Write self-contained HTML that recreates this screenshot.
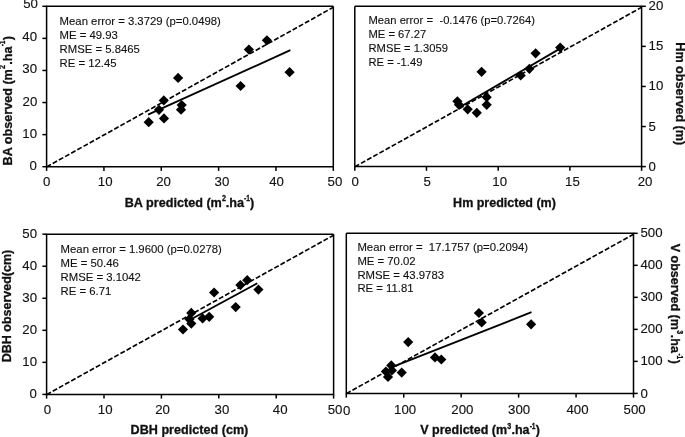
<!DOCTYPE html>
<html><head><meta charset="utf-8"><title>chart</title>
<style>
html,body{margin:0;padding:0;background:#fff;}
svg{display:block;will-change:transform;}
text{font-family:"Liberation Sans",sans-serif;fill:#111;}
</style></head>
<body>
<svg width="685" height="437" viewBox="0 0 685 437">
<rect width="685" height="437" fill="#fff"/>
<g fill="#000">
<line x1="46.6" y1="166.90" x2="333.3" y2="7.30" stroke="#000" stroke-width="1.65" stroke-dasharray="4.95 2.09"/>
<path d="M333.3,6.3 L46.6,6.3 L46.6,166.7" fill="none" stroke="#000" stroke-width="1.5"/>
<path d="M46.0,166.7 L333.90000000000003,166.7" fill="none" stroke="#000" stroke-width="1.5"/>
<path d="M333.3,6.3 L333.3,166.7" fill="none" stroke="#000" stroke-width="1.5"/>
<line x1="46.60" y1="166.7" x2="46.60" y2="170.89999999999998" stroke="#000" stroke-width="1.5"/>
<text transform="translate(46.60,186.00) scale(1.06,1)" font-size="12.5" text-anchor="middle" stroke="#111" stroke-width="0.12">0</text>
<line x1="103.94" y1="166.7" x2="103.94" y2="170.89999999999998" stroke="#000" stroke-width="1.5"/>
<text transform="translate(105.14,186.00) scale(1.06,1)" font-size="12.5" text-anchor="middle" stroke="#111" stroke-width="0.12">10</text>
<line x1="161.28" y1="166.7" x2="161.28" y2="170.89999999999998" stroke="#000" stroke-width="1.5"/>
<text transform="translate(163.58,186.00) scale(1.06,1)" font-size="12.5" text-anchor="middle" stroke="#111" stroke-width="0.12">20</text>
<line x1="218.62" y1="166.7" x2="218.62" y2="170.89999999999998" stroke="#000" stroke-width="1.5"/>
<text transform="translate(221.92,186.00) scale(1.06,1)" font-size="12.5" text-anchor="middle" stroke="#111" stroke-width="0.12">30</text>
<line x1="275.96" y1="166.7" x2="275.96" y2="170.89999999999998" stroke="#000" stroke-width="1.5"/>
<text transform="translate(276.56,186.00) scale(1.06,1)" font-size="12.5" text-anchor="middle" stroke="#111" stroke-width="0.12">40</text>
<line x1="333.30" y1="166.7" x2="333.30" y2="170.89999999999998" stroke="#000" stroke-width="1.5"/>
<text transform="translate(334.90,186.00) scale(1.06,1)" font-size="12.5" text-anchor="middle" stroke="#111" stroke-width="0.12">50</text>
<line x1="42.4" y1="166.70" x2="46.6" y2="166.70" stroke="#000" stroke-width="1.5"/>
<text transform="translate(37.00,170.00) scale(1.06,1)" font-size="12.5" text-anchor="end" stroke="#111" stroke-width="0.12">0</text>
<line x1="42.4" y1="134.62" x2="46.6" y2="134.62" stroke="#000" stroke-width="1.5"/>
<text transform="translate(37.00,137.92) scale(1.06,1)" font-size="12.5" text-anchor="end" stroke="#111" stroke-width="0.12">10</text>
<line x1="42.4" y1="102.54" x2="46.6" y2="102.54" stroke="#000" stroke-width="1.5"/>
<text transform="translate(37.30,105.54) scale(1.06,1)" font-size="12.5" text-anchor="end" stroke="#111" stroke-width="0.12">20</text>
<line x1="42.4" y1="70.46" x2="46.6" y2="70.46" stroke="#000" stroke-width="1.5"/>
<text transform="translate(37.00,73.46) scale(1.06,1)" font-size="12.5" text-anchor="end" stroke="#111" stroke-width="0.12">30</text>
<line x1="42.4" y1="38.38" x2="46.6" y2="38.38" stroke="#000" stroke-width="1.5"/>
<text transform="translate(37.00,41.28) scale(1.06,1)" font-size="12.5" text-anchor="end" stroke="#111" stroke-width="0.12">40</text>
<line x1="42.4" y1="6.30" x2="46.6" y2="6.30" stroke="#000" stroke-width="1.5"/>
<text transform="translate(37.90,8.40) scale(1.06,1)" font-size="12.5" text-anchor="end" stroke="#111" stroke-width="0.12">50</text>
<line x1="148" y1="114.6" x2="290.4" y2="50.2" stroke="#000" stroke-width="1.85"/>
<path d="M148.7,117.1 L153.8,122.2 L148.7,127.3 L143.6,122.2Z"/>
<path d="M159.0,104.7 L164.1,109.8 L159.0,114.9 L153.9,109.8Z"/>
<path d="M164.0,113.3 L169.1,118.4 L164.0,123.5 L158.9,118.4Z"/>
<path d="M163.8,95.3 L168.9,100.4 L163.8,105.5 L158.7,100.4Z"/>
<path d="M178.1,72.8 L183.2,77.9 L178.1,83.0 L173.0,77.9Z"/>
<path d="M181.7,99.9 L186.8,105.0 L181.7,110.1 L176.6,105.0Z"/>
<path d="M181.0,104.6 L186.1,109.7 L181.0,114.8 L175.9,109.7Z"/>
<path d="M240.6,80.9 L245.7,86.0 L240.6,91.1 L235.5,86.0Z"/>
<path d="M248.9,44.5 L254.0,49.6 L248.9,54.7 L243.8,49.6Z"/>
<path d="M266.9,35.2 L272.0,40.3 L266.9,45.4 L261.8,40.3Z"/>
<path d="M289.6,67.1 L294.7,72.2 L289.6,77.3 L284.5,72.2Z"/>
<text transform="translate(59.60,24.50) scale(1.05,1)" font-size="10.8" text-anchor="start" stroke="#111" stroke-width="0.12">Mean error = 3.3729 (p=0.0498)</text>
<text transform="translate(59.60,38.55) scale(1.05,1)" font-size="10.8" text-anchor="start" stroke="#111" stroke-width="0.12">ME = 49.93</text>
<text transform="translate(59.60,52.60) scale(1.05,1)" font-size="10.8" text-anchor="start" stroke="#111" stroke-width="0.12">RMSE = 5.8465</text>
<text transform="translate(59.60,66.65) scale(1.05,1)" font-size="10.8" text-anchor="start" stroke="#111" stroke-width="0.12">RE = 12.45</text>
<line x1="354.8" y1="166.80" x2="641.6" y2="7.30" stroke="#000" stroke-width="1.65" stroke-dasharray="4.95 2.09"/>
<path d="M354.8,6.3 L641.6,6.3 L641.6,166.6" fill="none" stroke="#000" stroke-width="1.5"/>
<path d="M354.2,166.6 L642.2,166.6" fill="none" stroke="#000" stroke-width="1.5"/>
<path d="M354.8,6.3 L354.8,166.6" fill="none" stroke="#000" stroke-width="1.5"/>
<line x1="354.80" y1="166.6" x2="354.80" y2="170.79999999999998" stroke="#000" stroke-width="1.5"/>
<text transform="translate(355.10,185.90) scale(1.06,1)" font-size="12.5" text-anchor="middle" stroke="#111" stroke-width="0.12">0</text>
<line x1="426.50" y1="166.6" x2="426.50" y2="170.79999999999998" stroke="#000" stroke-width="1.5"/>
<text transform="translate(427.30,185.90) scale(1.06,1)" font-size="12.5" text-anchor="middle" stroke="#111" stroke-width="0.12">5</text>
<line x1="498.20" y1="166.6" x2="498.20" y2="170.79999999999998" stroke="#000" stroke-width="1.5"/>
<text transform="translate(499.70,185.90) scale(1.06,1)" font-size="12.5" text-anchor="middle" stroke="#111" stroke-width="0.12">10</text>
<line x1="569.90" y1="166.6" x2="569.90" y2="170.79999999999998" stroke="#000" stroke-width="1.5"/>
<text transform="translate(572.40,185.90) scale(1.06,1)" font-size="12.5" text-anchor="middle" stroke="#111" stroke-width="0.12">15</text>
<line x1="641.60" y1="166.6" x2="641.60" y2="170.79999999999998" stroke="#000" stroke-width="1.5"/>
<text transform="translate(645.00,185.90) scale(1.06,1)" font-size="12.5" text-anchor="middle" stroke="#111" stroke-width="0.12">20</text>
<line x1="641.6" y1="166.60" x2="645.8000000000001" y2="166.60" stroke="#000" stroke-width="1.5"/>
<text transform="translate(648.60,171.10) scale(1.06,1)" font-size="12.5" text-anchor="start" stroke="#111" stroke-width="0.12">0</text>
<line x1="641.6" y1="126.53" x2="645.8000000000001" y2="126.53" stroke="#000" stroke-width="1.5"/>
<text transform="translate(648.60,131.03) scale(1.06,1)" font-size="12.5" text-anchor="start" stroke="#111" stroke-width="0.12">5</text>
<line x1="641.6" y1="86.45" x2="645.8000000000001" y2="86.45" stroke="#000" stroke-width="1.5"/>
<text transform="translate(648.60,90.15) scale(1.06,1)" font-size="12.5" text-anchor="start" stroke="#111" stroke-width="0.12">10</text>
<line x1="641.6" y1="46.38" x2="645.8000000000001" y2="46.38" stroke="#000" stroke-width="1.5"/>
<text transform="translate(648.60,49.67) scale(1.06,1)" font-size="12.5" text-anchor="start" stroke="#111" stroke-width="0.12">15</text>
<line x1="641.6" y1="6.30" x2="645.8000000000001" y2="6.30" stroke="#000" stroke-width="1.5"/>
<text transform="translate(648.60,9.60) scale(1.06,1)" font-size="12.5" text-anchor="start" stroke="#111" stroke-width="0.12">20</text>
<line x1="458.3" y1="108.0" x2="560.4" y2="48.4" stroke="#000" stroke-width="1.85"/>
<path d="M457.4,96.2 L462.5,101.3 L457.4,106.4 L452.3,101.3Z"/>
<path d="M459.0,99.7 L464.1,104.8 L459.0,109.9 L453.9,104.8Z"/>
<path d="M467.7,104.2 L472.8,109.3 L467.7,114.4 L462.6,109.3Z"/>
<path d="M476.8,107.7 L481.9,112.8 L476.8,117.9 L471.7,112.8Z"/>
<path d="M486.7,99.7 L491.8,104.8 L486.7,109.9 L481.6,104.8Z"/>
<path d="M486.7,92.1 L491.8,97.2 L486.7,102.3 L481.6,97.2Z"/>
<path d="M481.6,66.7 L486.7,71.8 L481.6,76.9 L476.5,71.8Z"/>
<path d="M520.7,70.4 L525.8,75.5 L520.7,80.6 L515.6,75.5Z"/>
<path d="M529.4,63.7 L534.5,68.8 L529.4,73.9 L524.3,68.8Z"/>
<path d="M535.6,48.2 L540.7,53.3 L535.6,58.4 L530.5,53.3Z"/>
<path d="M560.2,42.5 L565.3,47.6 L560.2,52.7 L555.1,47.6Z"/>
<text transform="translate(368.50,24.00) scale(1.038,1)" font-size="10.8" text-anchor="start" stroke="#111" stroke-width="0.12">Mean error =&#160;<tspan dx="0.2"> </tspan>-0.1476 (p=0.7264)</text>
<text transform="translate(368.50,37.90) scale(1.038,1)" font-size="10.8" text-anchor="start" stroke="#111" stroke-width="0.12">ME = 67.27</text>
<text transform="translate(368.50,51.80) scale(1.038,1)" font-size="10.8" text-anchor="start" stroke="#111" stroke-width="0.12">RMSE = 1.3059</text>
<text transform="translate(368.50,65.70) scale(1.038,1)" font-size="10.8" text-anchor="start" stroke="#111" stroke-width="0.12">RE = -1.49</text>
<line x1="46.6" y1="394.60" x2="333.6" y2="235.20" stroke="#000" stroke-width="1.65" stroke-dasharray="4.95 2.09"/>
<path d="M333.6,234.2 L46.6,234.2 L46.6,394.4" fill="none" stroke="#000" stroke-width="1.5"/>
<path d="M46.0,394.4 L334.20000000000005,394.4" fill="none" stroke="#000" stroke-width="1.5"/>
<path d="M333.6,234.2 L333.6,394.4" fill="none" stroke="#000" stroke-width="1.5"/>
<line x1="46.60" y1="394.4" x2="46.60" y2="398.59999999999997" stroke="#000" stroke-width="1.5"/>
<text transform="translate(47.50,414.20) scale(1.06,1)" font-size="12.5" text-anchor="middle" stroke="#111" stroke-width="0.12">0</text>
<line x1="104.00" y1="394.4" x2="104.00" y2="398.59999999999997" stroke="#000" stroke-width="1.5"/>
<text transform="translate(105.20,414.20) scale(1.06,1)" font-size="12.5" text-anchor="middle" stroke="#111" stroke-width="0.12">10</text>
<line x1="161.40" y1="394.4" x2="161.40" y2="398.59999999999997" stroke="#000" stroke-width="1.5"/>
<text transform="translate(162.60,414.20) scale(1.06,1)" font-size="12.5" text-anchor="middle" stroke="#111" stroke-width="0.12">20</text>
<line x1="218.80" y1="394.4" x2="218.80" y2="398.59999999999997" stroke="#000" stroke-width="1.5"/>
<text transform="translate(221.90,414.20) scale(1.06,1)" font-size="12.5" text-anchor="middle" stroke="#111" stroke-width="0.12">30</text>
<line x1="276.20" y1="394.4" x2="276.20" y2="398.59999999999997" stroke="#000" stroke-width="1.5"/>
<text transform="translate(280.20,414.20) scale(1.06,1)" font-size="12.5" text-anchor="middle" stroke="#111" stroke-width="0.12">40</text>
<line x1="333.60" y1="394.4" x2="333.60" y2="398.59999999999997" stroke="#000" stroke-width="1.5"/>
<text transform="translate(335.00,414.20) scale(1.06,1)" font-size="12.5" text-anchor="middle" stroke="#111" stroke-width="0.12">50</text>
<line x1="42.4" y1="394.40" x2="46.6" y2="394.40" stroke="#000" stroke-width="1.5"/>
<text transform="translate(37.00,398.40) scale(1.06,1)" font-size="12.5" text-anchor="end" stroke="#111" stroke-width="0.12">0</text>
<line x1="42.4" y1="362.36" x2="46.6" y2="362.36" stroke="#000" stroke-width="1.5"/>
<text transform="translate(37.00,366.26) scale(1.06,1)" font-size="12.5" text-anchor="end" stroke="#111" stroke-width="0.12">10</text>
<line x1="42.4" y1="330.32" x2="46.6" y2="330.32" stroke="#000" stroke-width="1.5"/>
<text transform="translate(37.00,333.92) scale(1.06,1)" font-size="12.5" text-anchor="end" stroke="#111" stroke-width="0.12">20</text>
<line x1="42.4" y1="298.28" x2="46.6" y2="298.28" stroke="#000" stroke-width="1.5"/>
<text transform="translate(37.00,301.58) scale(1.06,1)" font-size="12.5" text-anchor="end" stroke="#111" stroke-width="0.12">30</text>
<line x1="42.4" y1="266.24" x2="46.6" y2="266.24" stroke="#000" stroke-width="1.5"/>
<text transform="translate(37.00,269.54) scale(1.06,1)" font-size="12.5" text-anchor="end" stroke="#111" stroke-width="0.12">40</text>
<line x1="42.4" y1="234.20" x2="46.6" y2="234.20" stroke="#000" stroke-width="1.5"/>
<text transform="translate(37.00,237.50) scale(1.06,1)" font-size="12.5" text-anchor="end" stroke="#111" stroke-width="0.12">50</text>
<line x1="189.2" y1="320.3" x2="257.3" y2="283.3" stroke="#000" stroke-width="1.85"/>
<path d="M183.0,324.4 L188.1,329.5 L183.0,334.6 L177.9,329.5Z"/>
<path d="M191.3,318.5 L196.4,323.6 L191.3,328.7 L186.2,323.6Z"/>
<path d="M189.4,314.1 L194.5,319.2 L189.4,324.3 L184.3,319.2Z"/>
<path d="M191.3,307.8 L196.4,312.9 L191.3,318.0 L186.2,312.9Z"/>
<path d="M202.6,313.3 L207.7,318.4 L202.6,323.5 L197.5,318.4Z"/>
<path d="M209.2,311.7 L214.3,316.8 L209.2,321.9 L204.1,316.8Z"/>
<path d="M214.1,287.4 L219.2,292.5 L214.1,297.6 L209.0,292.5Z"/>
<path d="M235.7,302.0 L240.8,307.1 L235.7,312.2 L230.6,307.1Z"/>
<path d="M240.4,280.0 L245.5,285.1 L240.4,290.2 L235.3,285.1Z"/>
<path d="M247.2,275.1 L252.3,280.2 L247.2,285.3 L242.1,280.2Z"/>
<path d="M258.4,284.5 L263.5,289.6 L258.4,294.7 L253.3,289.6Z"/>
<text transform="translate(60.60,252.90) scale(1.05,1)" font-size="10.8" text-anchor="start" stroke="#111" stroke-width="0.12">Mean error = 1.9600 (p=0.0278)</text>
<text transform="translate(60.60,266.90) scale(1.05,1)" font-size="10.8" text-anchor="start" stroke="#111" stroke-width="0.12">ME = 50.46</text>
<text transform="translate(60.60,280.90) scale(1.05,1)" font-size="10.8" text-anchor="start" stroke="#111" stroke-width="0.12">RMSE = 3.1042</text>
<text transform="translate(60.60,294.90) scale(1.05,1)" font-size="10.8" text-anchor="start" stroke="#111" stroke-width="0.12">RE = 6.71</text>
<line x1="346.3" y1="393.60" x2="633.5" y2="234.30" stroke="#000" stroke-width="1.65" stroke-dasharray="4.95 2.09"/>
<path d="M346.3,233.3 L633.5,233.3 L633.5,393.4" fill="none" stroke="#000" stroke-width="1.5"/>
<path d="M345.7,393.4 L634.1,393.4" fill="none" stroke="#000" stroke-width="1.5"/>
<path d="M346.3,233.3 L346.3,393.4" fill="none" stroke="#000" stroke-width="1.5"/>
<line x1="346.30" y1="393.4" x2="346.30" y2="397.59999999999997" stroke="#000" stroke-width="1.5"/>
<text transform="translate(346.60,414.50) scale(1.06,1)" font-size="12.5" text-anchor="middle" stroke="#111" stroke-width="0.12">0</text>
<line x1="403.74" y1="393.4" x2="403.74" y2="397.59999999999997" stroke="#000" stroke-width="1.5"/>
<text transform="translate(405.14,413.50) scale(1.06,1)" font-size="12.5" text-anchor="middle" stroke="#111" stroke-width="0.12">100</text>
<line x1="461.18" y1="393.4" x2="461.18" y2="397.59999999999997" stroke="#000" stroke-width="1.5"/>
<text transform="translate(462.38,413.50) scale(1.06,1)" font-size="12.5" text-anchor="middle" stroke="#111" stroke-width="0.12">200</text>
<line x1="518.62" y1="393.4" x2="518.62" y2="397.59999999999997" stroke="#000" stroke-width="1.5"/>
<text transform="translate(519.12,413.50) scale(1.06,1)" font-size="12.5" text-anchor="middle" stroke="#111" stroke-width="0.12">300</text>
<line x1="576.06" y1="393.4" x2="576.06" y2="397.59999999999997" stroke="#000" stroke-width="1.5"/>
<text transform="translate(577.46,413.50) scale(1.06,1)" font-size="12.5" text-anchor="middle" stroke="#111" stroke-width="0.12">400</text>
<line x1="633.50" y1="393.4" x2="633.50" y2="397.59999999999997" stroke="#000" stroke-width="1.5"/>
<text transform="translate(634.60,413.50) scale(1.06,1)" font-size="12.5" text-anchor="middle" stroke="#111" stroke-width="0.12">500</text>
<line x1="633.5" y1="393.40" x2="637.7" y2="393.40" stroke="#000" stroke-width="1.5"/>
<text transform="translate(640.50,397.60) scale(1.06,1)" font-size="12.5" text-anchor="start" stroke="#111" stroke-width="0.12">0</text>
<line x1="633.5" y1="361.38" x2="637.7" y2="361.38" stroke="#000" stroke-width="1.5"/>
<text transform="translate(640.50,365.38) scale(1.06,1)" font-size="12.5" text-anchor="start" stroke="#111" stroke-width="0.12">100</text>
<line x1="633.5" y1="329.36" x2="637.7" y2="329.36" stroke="#000" stroke-width="1.5"/>
<text transform="translate(640.50,332.96) scale(1.06,1)" font-size="12.5" text-anchor="start" stroke="#111" stroke-width="0.12">200</text>
<line x1="633.5" y1="297.34" x2="637.7" y2="297.34" stroke="#000" stroke-width="1.5"/>
<text transform="translate(640.50,300.94) scale(1.06,1)" font-size="12.5" text-anchor="start" stroke="#111" stroke-width="0.12">300</text>
<line x1="633.5" y1="265.32" x2="637.7" y2="265.32" stroke="#000" stroke-width="1.5"/>
<text transform="translate(640.50,268.92) scale(1.06,1)" font-size="12.5" text-anchor="start" stroke="#111" stroke-width="0.12">400</text>
<line x1="633.5" y1="233.30" x2="637.7" y2="233.30" stroke="#000" stroke-width="1.5"/>
<text transform="translate(640.50,237.10) scale(1.06,1)" font-size="12.5" text-anchor="start" stroke="#111" stroke-width="0.12">500</text>
<line x1="393.9" y1="366.4" x2="531.5" y2="312.2" stroke="#000" stroke-width="1.85"/>
<path d="M408.2,337.0 L413.3,342.1 L408.2,347.2 L403.1,342.1Z"/>
<path d="M391.3,360.3 L396.4,365.4 L391.3,370.5 L386.2,365.4Z"/>
<path d="M385.9,366.4 L391.0,371.5 L385.9,376.6 L380.8,371.5Z"/>
<path d="M391.9,365.3 L397.0,370.4 L391.9,375.5 L386.8,370.4Z"/>
<path d="M388.0,371.8 L393.1,376.9 L388.0,382.0 L382.9,376.9Z"/>
<path d="M401.7,367.5 L406.8,372.6 L401.7,377.7 L396.6,372.6Z"/>
<path d="M435.0,352.3 L440.1,357.4 L435.0,362.5 L429.9,357.4Z"/>
<path d="M441.3,354.4 L446.4,359.5 L441.3,364.6 L436.2,359.5Z"/>
<path d="M478.9,307.9 L484.0,313.0 L478.9,318.1 L473.8,313.0Z"/>
<path d="M481.7,317.3 L486.8,322.4 L481.7,327.5 L476.6,322.4Z"/>
<path d="M531.1,319.2 L536.2,324.3 L531.1,329.4 L526.0,324.3Z"/>
<text transform="translate(357.40,250.80) scale(1.05,1)" font-size="10.8" text-anchor="start" stroke="#111" stroke-width="0.12">Mean error =&#160; 17.1757 (p=0.2094)</text>
<text transform="translate(357.40,264.65) scale(1.05,1)" font-size="10.8" text-anchor="start" stroke="#111" stroke-width="0.12">ME = 70.02</text>
<text transform="translate(357.40,278.50) scale(1.05,1)" font-size="10.8" text-anchor="start" stroke="#111" stroke-width="0.12">RMSE = 43.9783</text>
<text transform="translate(357.40,292.35) scale(1.05,1)" font-size="10.8" text-anchor="start" stroke="#111" stroke-width="0.12">RE = 11.81</text>
<g transform="translate(124.70,206.70)" font-weight="bold" stroke="#111" stroke-width="0.3">
<text transform="translate(0.00,0.00) scale(1.012,1)" font-size="12.5">BA predicted (m</text>
<text transform="translate(97.18,-5.80) scale(0.8,1)" font-size="9.0">2</text>
<text transform="translate(101.13,0.00) scale(1.012,1)" font-size="12.5">.ha</text>
<text transform="translate(119.36,-5.80) scale(0.8,1)" font-size="8.3">-1</text>
<text transform="translate(125.21,0.00) scale(1.012,1)" font-size="12.5">)</text>
</g>
<g transform="translate(11.70,165.40) rotate(-90)" font-weight="bold" stroke="#111" stroke-width="0.3">
<text transform="translate(0.00,0.00) scale(1.01,1)" font-size="12.5">BA observed (m</text>
<text transform="translate(96.50,-6.50) scale(0.8,1)" font-size="9.0">2</text>
<text transform="translate(100.65,0.00) scale(1.01,1)" font-size="12.5">.ha</text>
<text transform="translate(119.04,-6.50) scale(0.8,1)" font-size="8.3">-1</text>
<text transform="translate(125.10,0.00) scale(1.01,1)" font-size="12.5">)</text>
</g>
<text transform="translate(453.10,206.70)" font-size="12.5" text-anchor="start" font-weight="bold" stroke="#111" stroke-width="0.3">Hm predicted (m)</text>
<text transform="translate(675.60,42.30) rotate(90) scale(1.008,1)" font-size="12.5" text-anchor="start" font-weight="bold" stroke="#111" stroke-width="0.3">Hm observed (m)</text>
<text transform="translate(130.60,434.30) scale(1.01,1)" font-size="12.5" text-anchor="start" font-weight="bold" stroke="#111" stroke-width="0.3">DBH predicted (cm)</text>
<text transform="translate(10.90,362.30) rotate(-90)" font-size="12.5" text-anchor="start" font-weight="bold" stroke="#111" stroke-width="0.3">DBH observed(cm)</text>
<g transform="translate(420.30,434.40)" font-weight="bold" stroke="#111" stroke-width="0.3">
<text transform="translate(0.00,0.00) scale(1.0,1)" font-size="12.5">V predicted (m</text>
<text transform="translate(86.97,-5.80) scale(0.8,1)" font-size="9.0">3</text>
<text transform="translate(91.13,0.00) scale(1.0,1)" font-size="12.5">.ha</text>
<text transform="translate(109.34,-5.80) scale(0.8,1)" font-size="8.3">-1</text>
<text transform="translate(115.39,0.00) scale(1.0,1)" font-size="12.5">)</text>
</g>
<g transform="translate(671.20,243.70) rotate(90)" font-weight="bold" stroke="#111" stroke-width="0.3">
<text transform="translate(0.00,0.00) scale(1.0,1)" font-size="12.5">V observed (m</text>
<text transform="translate(86.64,-5.80) scale(0.8,1)" font-size="9.0">3</text>
<text transform="translate(91.14,0.00) scale(1.0,1)" font-size="12.5">.ha</text>
<text transform="translate(109.70,-5.80) scale(0.8,1)" font-size="8.3">-1</text>
<text transform="translate(116.11,0.00) scale(1.0,1)" font-size="12.5">)</text>
</g>
</g>
</svg>
</body></html>
